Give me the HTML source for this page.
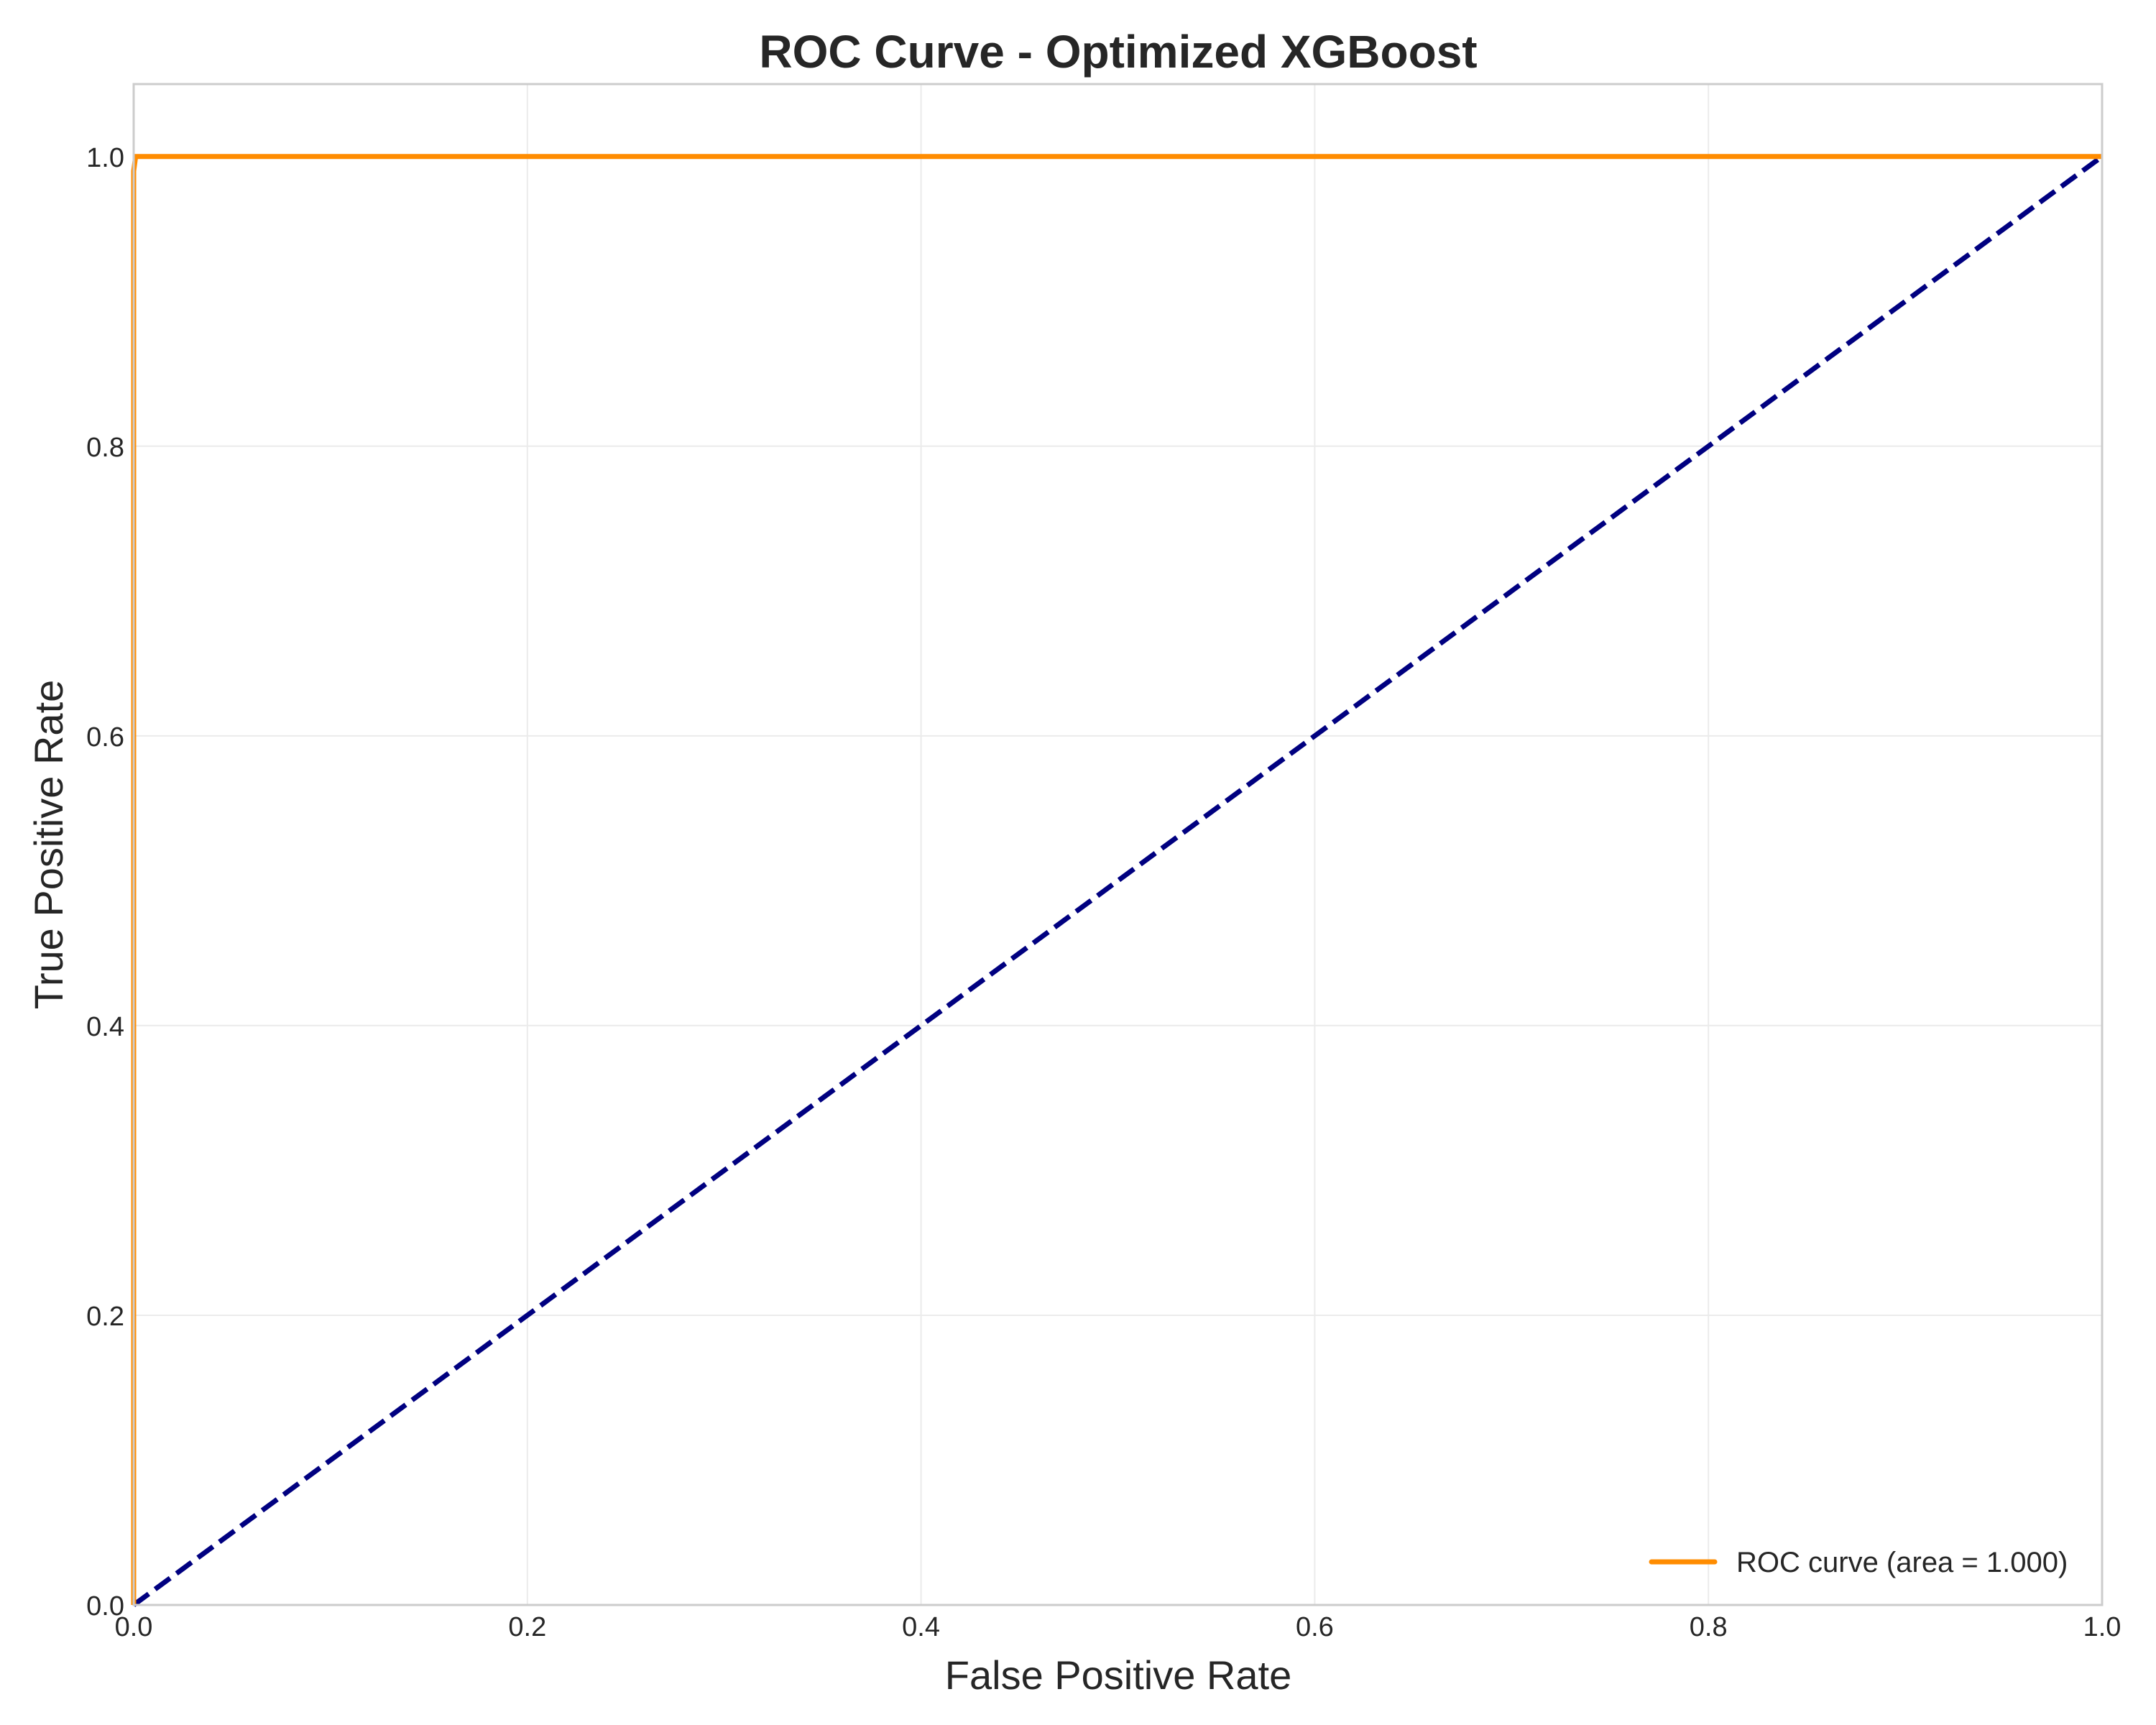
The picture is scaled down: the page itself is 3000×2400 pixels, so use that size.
<!DOCTYPE html>
<html><head><meta charset="utf-8"><style>
body{margin:0;background:#fff;}
svg{display:block;font-family:"Liberation Sans",Arial,sans-serif;}
</style></head><body>
<svg id="chart" width="3000" height="2400" viewBox="0 0 3000 2400">
<text x="1556" y="94" text-anchor="middle" font-size="64" font-weight="bold" fill="#262626">ROC Curve - Optimized XGBoost</text>
<g id="grid"></g>
<g id="ticks"></g>
<g id="series"></g>
<rect x="186" y="117" width="2739" height="2116" fill="none" stroke="#cccccc" stroke-width="3"/>
<text x="1556" y="2350" text-anchor="middle" font-size="56" fill="#262626">False Positive Rate</text>
<text transform="translate(87,1175) rotate(-90)" text-anchor="middle" font-size="56" fill="#262626">True Positive Rate</text>
<g>
<line x1="2298" y1="2173" x2="2386" y2="2173" stroke="#ff8c00" stroke-width="7" stroke-linecap="round"/>
<text x="2416" y="2187" font-size="40" fill="#262626">ROC curve (area = 1.000)</text>
</g>
</svg>
<script>
const tickValues=[0,0.2,0.4,0.6,0.8,1.0];
const tickLabels=["0.0","0.2","0.4","0.6","0.8","1.0"];
const rocFpr=[0,0,0.001,1];
const rocTpr=[0,0.99,1,1];
const diagFpr=[0,1];
const diagTpr=[0,1];
const L=186,R=2925,T=117,B=2233;
const xs=v=>L+v*(R-L);
const ys=v=>B-v*(B-T)/1.05;
const NS="http://www.w3.org/2000/svg";
function mk(tag,attrs,parent){const e=document.createElementNS(NS,tag);for(const k in attrs)e.setAttribute(k,attrs[k]);parent.appendChild(e);return e;}
const grid=document.getElementById('grid'),ticks=document.getElementById('ticks'),series=document.getElementById('series');
tickValues.forEach((v,i)=>{
  const gx=mk('line',{x1:xs(v),x2:xs(v),y1:T,y2:B,stroke:'#ebebeb','stroke-width':2},grid);
  
  
  const gy=mk('line',{x1:L,x2:R,y1:ys(v),y2:ys(v),stroke:'#ebebeb','stroke-width':2},grid);
  
  
  const tx=mk('text',{x:xs(v),y:2276,'text-anchor':'middle','font-size':38,fill:'#262626'},ticks);
  tx.textContent=tickLabels[i];
  
  
  const ty=mk('text',{x:173,y:ys(v)+14,'text-anchor':'end','font-size':38,fill:'#262626'},ticks);
  ty.textContent=tickLabels[i];
  
  
});
const dpts=diagFpr.map((v,i)=>xs(v)+','+ys(diagTpr[i])).join(' ');
const diag=mk('polyline',{points:dpts,fill:'none',stroke:'#000080','stroke-width':7,'stroke-dasharray':'26,11'},series);


const rpts=rocFpr.map((v,i)=>xs(v)+','+ys(rocTpr[i])).join(' ');
const roc=mk('polyline',{points:rpts,fill:'none',stroke:'#ff8c00','stroke-width':7},series);


</script>
</body></html>
